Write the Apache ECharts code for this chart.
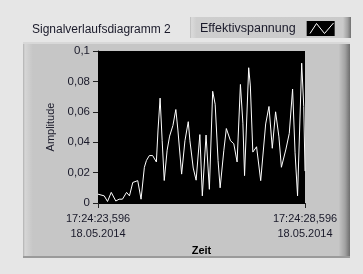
<!DOCTYPE html>
<html>
<head>
<meta charset="utf-8">
<script src="https://cdn.jsdelivr.net/npm/echarts@6/dist/echarts.min.js"></script>
<style>
html,body{margin:0;padding:0;background:#e6e6e6;}
#c{width:363px;height:274px;}
</style>
</head>
<body>
<div id="c"></div>
<script>
// ---- data ----
const chartTitle = 'Signalverlaufsdiagramm 2';
const seriesName = 'Effektivspannung';
const xAxisName = 'Zeit';
const yAxisName = 'Amplitude';
const xTickLabels = ['17:24:23,596\n18.05.2014', '17:24:28,596\n18.05.2014'];
const yTickLabels = ['0', '0,02', '0,04', '0,06', '0,08', '0,1'];
// elapsed time (s) of each sample
const times = [0.00,0.15,0.23,0.32,0.43,0.51,0.59,0.69,0.76,0.84,0.96,1.04,1.12,1.17,1.24,1.32,1.41,1.45,1.50,1.55,1.60,1.67,1.73,1.81,1.88,1.93,2.02,2.10,2.18,2.22,2.30,2.37,2.46,2.52,2.61,2.69,2.77,2.83,2.90,2.95,3.04,3.10,3.13,3.20,3.28,3.36,3.44,3.50,3.54,3.64,3.68,3.74,3.83,3.93,4.05,4.13,4.21,4.29,4.37,4.43,4.54,4.62,4.70,4.76,4.82,4.92,4.97,5.00];
const amplitude = [0.0058,0.0047,0.0010,0.0070,0.0013,0.0025,0.0025,0.0070,0.0047,0.0135,0.0147,0.0025,0.0235,0.0280,0.0312,0.0312,0.0270,0.0480,0.0690,0.0410,0.0148,0.0347,0.0440,0.0510,0.0615,0.0480,0.0190,0.0410,0.0535,0.0410,0.0230,0.0150,0.0450,0.0047,0.0447,0.0090,0.0735,0.0650,0.0280,0.0100,0.0347,0.0490,0.0500,0.0410,0.0390,0.0270,0.0780,0.0525,0.0180,0.0890,0.0770,0.0335,0.0370,0.0147,0.0520,0.0635,0.0360,0.0600,0.0435,0.0235,0.0355,0.0458,0.0750,0.0330,0.0047,0.0920,0.0635,0.0210];

const points = times.map((t, i) => [t, amplitude[i]]);
const FONT = 'Liberation Sans';
const TXT = '#1a1a2a';

const chart = echarts.init(document.getElementById('c'), null, {renderer: 'canvas'});
chart.setOption({
  animation: false,
  backgroundColor: '#e6e6e6',
  textStyle: {fontFamily: FONT},
  title: {
    text: chartTitle, left: 32, top: 24, padding: 0,
    textStyle: {fontSize: 12, fontWeight: 'normal', color: TXT, fontFamily: FONT}
  },
  legend: {
    left: 200, top: 21, padding: 0,
    align: 'right',
    itemWidth: 28, itemHeight: 15,
    data: [{name: seriesName, icon: 'rect', itemStyle: {color: '#000', borderWidth: 0}}],
    textStyle: {fontSize: 12.5, color: TXT, fontFamily: FONT, padding: [0, 6, 3, 0]},
    selectedMode: false,
    z: 5
  },
  graphic: [
    {type: 'rect', z: -10, shape: {x: 23, y: 42, width: 327, height: 216},
      style: {fill: new echarts.graphic.LinearGradient(0, 0, 1, 0, [
        {offset: 0, color: '#b0b0b0'}, {offset: 0.006, color: '#d6d6d6'},
        {offset: 0.03, color: '#c6c6c6'}, {offset: 0.965, color: '#c6c6c6'},
        {offset: 0.985, color: '#a2a2a2'}, {offset: 1, color: '#6e6e6e'}])}},
    {type: 'rect', z: -9, shape: {x: 23, y: 42, width: 327, height: 2}, style: {fill: '#d8d8d8'}},
    {type: 'rect', z: -9, shape: {x: 23, y: 256, width: 327, height: 2}, style: {fill: '#9a9a9a'}},
    {type: 'rect', z: -10, shape: {x: 190, y: 17, width: 161, height: 21},
      style: {fill: new echarts.graphic.LinearGradient(0, 0, 1, 0, [
        {offset: 0, color: '#b8b8b8'}, {offset: 0.01, color: '#dadada'},
        {offset: 0.04, color: '#cecece'}, {offset: 0.95, color: '#cacaca'},
        {offset: 0.98, color: '#a0a0a0'}, {offset: 1, color: '#707070'}])}},
    {type: 'polyline', z: 100, shape: {points: [[310, 33.5], [316.5, 23.5], [324.5, 33.5], [333.5, 23]]},
      style: {stroke: '#fff', lineWidth: 1, fill: null}}
  ],
  grid: {left: 98, top: 51, right: 58, bottom: 71, show: true, backgroundColor: '#000', borderWidth: 0},
  xAxis: {
    type: 'value', min: 0, max: 5, interval: 5,
    name: xAxisName, nameLocation: 'middle', nameGap: 41,
    nameTextStyle: {fontSize: 11, fontWeight: 'bold', color: '#000', fontFamily: FONT},
    axisLine: {show: true, lineStyle: {color: '#000'}},
    axisTick: {show: true, length: 5, lineStyle: {color: '#222'}},
    splitLine: {show: false},
    axisLabel: {
      margin: 9, fontSize: 11, lineHeight: 14.5, color: TXT, fontFamily: FONT,
      showMinLabel: true, showMaxLabel: true,
      formatter: v => (v === 0 ? xTickLabels[0] : xTickLabels[1])
    }
  },
  yAxis: {
    type: 'value', min: 0, max: 0.1, interval: 0.02,
    name: yAxisName, nameLocation: 'middle', nameGap: 40,
    nameTextStyle: {fontSize: 11, color: TXT, fontFamily: FONT},
    axisLine: {show: true, lineStyle: {color: '#000'}},
    axisTick: {show: true, length: 5, lineStyle: {color: '#222'}},
    splitLine: {show: false},
    axisLabel: {
      margin: 8, fontSize: 11.5, color: TXT, fontFamily: FONT,
      formatter: v => yTickLabels[Math.round(v / 0.02)]
    }
  },
  series: [{
    name: seriesName, type: 'line', data: points,
    showSymbol: false, symbol: 'none',
    lineStyle: {color: '#fff', width: 1},
    itemStyle: {color: '#fff'}
  }]
});
</script>
</body>
</html>
